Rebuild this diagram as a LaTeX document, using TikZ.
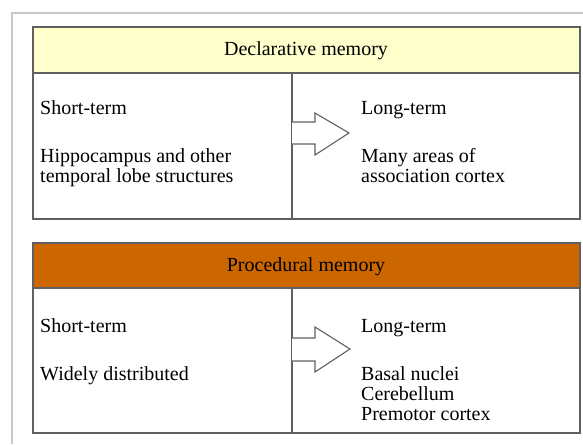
\documentclass[tikz,border=0pt]{standalone}
\usepackage{fontspec}
\setmainfont{Liberation Serif}
\usepackage{tikz}
\definecolor{declfill}{HTML}{FFFFCC}
\definecolor{procfill}{HTML}{CC6600}
\definecolor{frameline}{HTML}{C8C8C8}
\definecolor{boxline}{HTML}{606060}

\begin{document}
\begin{tikzpicture}[x=1pt,y=-1pt,
    txt/.style={anchor=base west,inner sep=0pt,font=\fontsize{20}{20}\selectfont},
    head/.style={anchor=base,inner sep=0pt,font=\fontsize{20}{20}\selectfont},
    boxedge/.style={draw=boxline,line width=1.4pt},
    blockarrow/.style={draw=boxline,line width=1.1pt,line join=miter,fill=white}]
    \useasboundingbox (0,0) rectangle (583,444);

    % outer frame, cut off at the right and bottom
    \draw [frameline, line width=1.2pt] (12,444) -- (12,13) -- (583,13);

    % declarative block
    \draw [boxedge, fill=declfill] (33,27) rectangle (580,73);
    \draw [boxedge] (33,73) rectangle (580,219);
    \draw [boxedge] (292,73) -- (292,219);
    \node [head] (dtitle) at (306,56) {Declarative memory};

    \node [txt] (dshort) at (40,114) {Short-term};
    \node [txt] (dhippo) at (40,162) {Hippocampus and other};
    \node [txt] (dtemp) at (40,182) {temporal lobe structures};
    \node [txt] (dlong) at (361,114) {Long-term};
    \node [txt] (dmany) at (361,162) {Many areas of};
    \node [txt] (dassoc) at (361,182) {association cortex};

    \coordinate (dtip) at (349,133);
    \draw [blockarrow] (292,122) -- (315,122) -- (315,113) -- (dtip)
        -- (315,155) -- (315,144) -- (292,144);

    % procedural block
    \draw [boxedge, fill=procfill] (33,243) rectangle (580,288);
    \draw [boxedge] (33,288) rectangle (580,433);
    \draw [boxedge] (292,288) -- (292,433);
    \node [head] (ptitle) at (306,271) {Procedural memory};

    \node [txt] (pshort) at (40,332) {Short-term};
    \node [txt] (pwide) at (40,380) {Widely distributed};
    \node [txt] (plong) at (361,332) {Long-term};
    \node [txt] (pbasal) at (361,380) {Basal nuclei};
    \node [txt] (pcereb) at (361,400) {Cerebellum};
    \node [txt] (ppremot) at (361,420) {Premotor cortex};

    \coordinate (ptip) at (350,349);
    \draw [blockarrow] (292,338) -- (315,338) -- (315,327) -- (ptip)
        -- (315,372) -- (315,361) -- (292,361);
\end{tikzpicture}
\end{document}
